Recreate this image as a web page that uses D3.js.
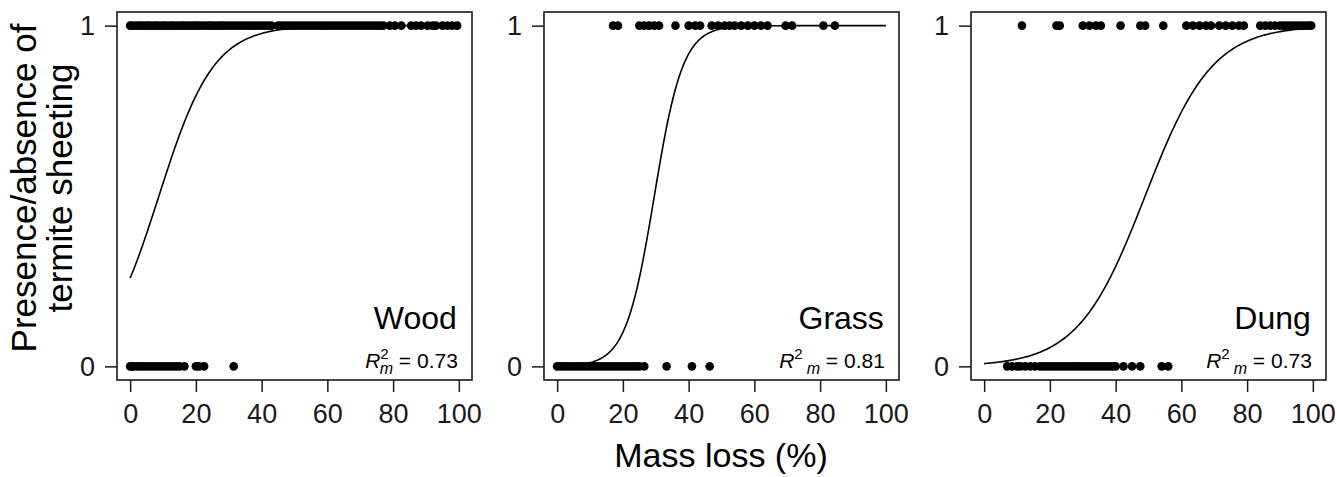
<!DOCTYPE html>
<html>
<head>
<meta charset="utf-8">
<script src="https://cdn.jsdelivr.net/npm/d3@7"></script>
<style>
  body { margin: 0; background: #fff; }
  svg { display: block; font-family: "Liberation Sans", Arial, sans-serif; }
</style>
</head>
<body>
<div id="chart"></div>
<script>
(function() {
  const width = 1337;
  const height = 477;

  // Data
  const panelNames = ["Wood", "Grass", "Dung"];
  const r2Labels = ["0.73", "0.81", "0.73"];
  const xTicks = [0, 20, 40, 60, 80, 100];
  const yTicks = [0, 1];

  // mass loss (%) of samples with sheeting present (1) / absent (0)
  const woodPresent = [0, 0.5, 1.5, 2.5, 3, 4, 5, 5.5, 6.5, 7.5, 8, 9, 10, 10.5, 11.5, 12.5, 13, 14, 15, 16, 16.5,
    17.5, 18.5, 19.5, 20, 21, 22, 23, 24, 24.5, 25.5, 26.5, 27.5, 28, 29, 30, 31, 32, 33, 34, 35, 36, 37, 38, 39,
    40, 41, 42, 43, 45, 46, 47, 48, 49, 50, 51, 52, 53, 54, 55, 56, 57, 58, 59, 60, 61, 62, 63, 64, 65, 66, 67, 68,
    69, 70, 71, 72, 73, 74, 75, 76, 77, 79, 80.5, 82.5, 85.5, 87, 88.5, 90.5, 92, 93, 95, 96.5, 98, 99.5];
  const woodAbsent = [0, 0.5, 1, 2, 3, 4, 5, 6, 7, 8, 9, 10, 11, 12, 13, 14, 15, 16.5, 20, 21, 22.5, 31.5];
  const grassPresent = [17, 18.5, 25, 26.5, 28, 29.5, 31, 36, 40, 42, 43.5, 47, 49, 51, 52.5, 54, 56, 58,
    60, 62, 64, 69.5, 71.5, 81, 84.5];
  const grassAbsent = [0, 1, 2, 3, 4, 5, 6, 7, 8, 9, 10, 11, 12, 13, 14, 15, 16, 17, 18, 19, 20, 21, 22, 23,
    24, 25, 26.5, 33.3, 41, 46.4];
  const dungPresent = [11.5, 22, 23, 30, 32, 34, 35.5, 41.5, 47.5, 49, 54.5, 61.5, 63.5, 65.5, 67.5, 69,
    71.5, 73.5, 75.5, 77.5, 79, 84, 85.5, 87, 88.5, 90, 91, 92, 93, 94, 95, 96, 97, 98, 99, 99.5];
  const dungAbsent = [7, 8.5, 10, 11, 12.5, 14, 15.5, 17, 18, 19, 20, 21, 22, 23, 24, 25, 26, 27, 28, 29, 30,
    31, 32, 33, 34, 35, 36, 37, 38, 39, 40, 42.4, 45, 47.5, 54, 56];

  // fitted logistic curves: intercept and slope (logit scale)
  const intercepts = [-1.05, -6.8, -4.8];
  const slopes = [0.12, 0.23, 0.098];

  const presentSets = [woodPresent, grassPresent, dungPresent];
  const absentSets = [woodAbsent, grassAbsent, dungAbsent];

  const boxLefts = [117, 544, 971];
  const boxW = 355;
  const top = 12, bottom = 380;
  const ink = "#1a1a1a";

  const svg = d3.select("#chart")
    .append("svg")
    .attr("width", width)
    .attr("height", height);

  svg.append("rect").attr("width", width).attr("height", height).attr("fill", "#fff");

  const y = d3.scaleLinear().domain([-0.04, 1.04]).range([bottom, top]);

  panelNames.forEach((name, i) => {
    const x = d3.scaleLinear().domain([-4, 104]).range([boxLefts[i], boxLefts[i] + boxW]);
    const g = svg.append("g");

    // x axis
    const xAxis = g.append("g")
      .attr("transform", `translate(0,${bottom})`)
      .call(d3.axisBottom(x).tickValues(xTicks).tickSize(12).tickPadding(4));
    // y axis
    const yAxis = g.append("g")
      .attr("transform", `translate(${boxLefts[i]},0)`)
      .call(d3.axisLeft(y).tickValues(yTicks).tickFormat(d3.format("d")).tickSize(12).tickPadding(10));
    [xAxis, yAxis].forEach(a => {
      a.select(".domain").remove();
      a.selectAll("line").attr("stroke", ink).attr("stroke-width", 1.5);
      a.selectAll("text").attr("fill", ink).attr("font-size", "27px")
        .attr("font-family", "'Liberation Sans', Arial, sans-serif");
    });
    xAxis.selectAll("text").attr("dy", "1em");

    // frame
    g.append("rect")
      .attr("x", boxLefts[i]).attr("y", top)
      .attr("width", boxW).attr("height", bottom - top)
      .attr("fill", "none").attr("stroke", ink).attr("stroke-width", 1.6);

    // points
    const pts = presentSets[i].map(v => ({ v, p: 1 })).concat(absentSets[i].map(v => ({ v, p: 0 })));
    g.selectAll("circle")
      .data(pts)
      .join("circle")
      .attr("cx", d => x(d.v))
      .attr("cy", d => y(d.p))
      .attr("r", 4.3)
      .attr("fill", "#000");

    // fitted curve
    const grid = d3.range(0, 100.01, 0.5);
    const line = d3.line()
      .x(d => x(d))
      .y(d => y(1 / (1 + Math.exp(-(intercepts[i] + slopes[i] * d)))));
    g.append("path")
      .datum(grid)
      .attr("d", line)
      .attr("fill", "none")
      .attr("stroke", "#000")
      .attr("stroke-width", 1.6);

    // panel label
    g.append("text")
      .attr("x", x(100) - 2).attr("y", 329)
      .attr("text-anchor", "end")
      .attr("font-size", "32px")
      .attr("fill", "#000")
      .text(name);

    // R2m label
    const r2 = g.append("text")
      .attr("x", x(100) - 1).attr("y", 368)
      .attr("text-anchor", "end")
      .attr("font-size", "21px")
      .attr("fill", "#000");
    r2.append("tspan").attr("font-style", "italic").text("R");
    r2.append("tspan").attr("font-size", "15px").attr("dy", -9).text("2");
    r2.append("tspan").attr("font-size", "16px").attr("font-style", "italic").attr("dx", i === 0 ? -9 : 4).attr("dy", 15).text("m");
    r2.append("tspan").attr("dy", -6).text(" = " + r2Labels[i]);
  });

  // axis titles
  svg.append("text")
    .attr("x", 721).attr("y", 467)
    .attr("text-anchor", "middle")
    .attr("font-size", "34px")
    .attr("fill", "#000")
    .text("Mass loss (%)");

  const yTitle = svg.append("text")
    .attr("transform", "translate(36,188) rotate(-90)")
    .attr("text-anchor", "middle")
    .attr("font-size", "35px")
    .attr("fill", "#000");
  yTitle.append("tspan").attr("x", 0).attr("y", 0).text("Presence/absence of");
  yTitle.append("tspan").attr("x", 0).attr("y", 36).text("termite sheeting");
})();
</script>
</body>
</html>
